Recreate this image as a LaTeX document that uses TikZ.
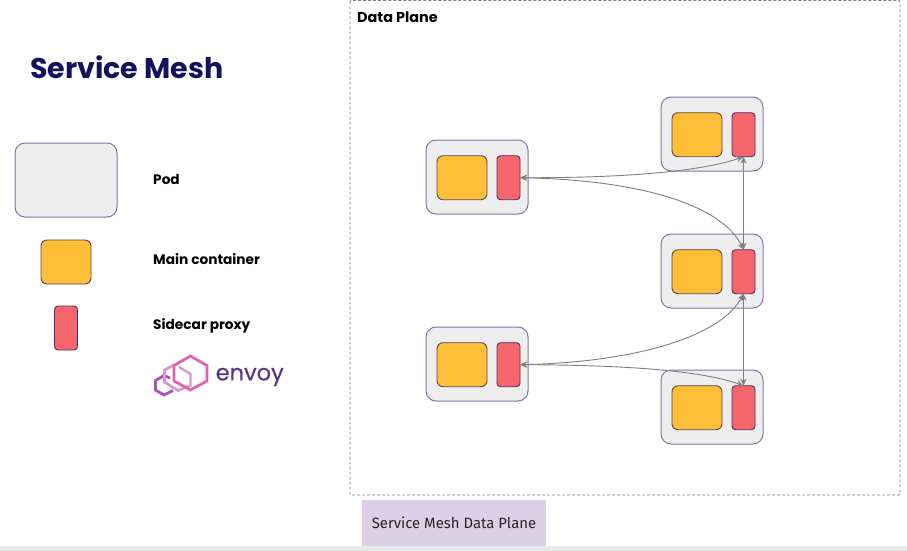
\documentclass[tikz,border=0pt]{standalone}
\usepackage{fontspec}
\setmainfont{Poppins}
\newfontfamily\labelfont{Fira Sans}
\newfontfamily\logofont[FakeBold=0.4]{Poppins}
\usetikzlibrary{arrows.meta}
\definecolor{podfill}{HTML}{EEEEEE}
\definecolor{podline}{HTML}{7A79A8}
\definecolor{mainfill}{HTML}{FFBE37}
\definecolor{sidefill}{HTML}{F4666C}
\definecolor{navy}{HTML}{14125C}
\definecolor{linkgray}{HTML}{808080}
\tikzset{
  podbox/.style={draw=podline,fill=podfill,line width=1pt,rounded corners=10pt,minimum width=102pt,minimum height=74pt,inner sep=0pt,outer sep=0pt},
  mainbox/.style={draw=navy!70!mainfill,fill=mainfill,line width=.9pt,rounded corners=6pt,minimum width=50pt,minimum height=44pt,inner sep=0pt,outer sep=0pt},
  sidebox/.style={draw=navy!70!sidefill,fill=sidefill,line width=.9pt,rounded corners=3.5pt,minimum width=23pt,minimum height=44pt,inner sep=0pt,outer sep=0pt},
  link/.style={draw=linkgray,line width=.9pt,{Stealth[length=7pt,width=6pt]}-{Stealth[length=7pt,width=6pt]}},
  legendtext/.style={anchor=west,inner sep=0pt,font=\fontsize{13.7}{15}\selectfont\bfseries,text=black},
  hexa/.style={line width=2.8pt,line join=miter}
}
\begin{document}
\begin{tikzpicture}[x=1pt,y=-1pt]
\useasboundingbox (0,0) rectangle (907,551);
\fill[white] (0,0) rectangle (907,551);
\fill[black!9] (0,546) rectangle (907,551);
\coordinate (dpa) at (350,0.5);
\coordinate (dpb) at (900,495);
\draw[draw=black!50,line width=.9pt,dash pattern=on 3pt off 2pt,rounded corners=1pt] (dpa) rectangle (dpb);
\node[anchor=west,inner sep=0pt,font=\fontsize{14.4}{16}\selectfont\bfseries] (dptitle) at (357,17.5) {Data Plane};
\node[anchor=west,inner sep=0pt,font=\fontsize{28.5}{34}\selectfont\bfseries,text=navy] (title) at (30,67) {Service Mesh};
\node[fill={rgb,255:red,220;green,207;blue,232},minimum width=184pt,minimum height=46pt,inner sep=0pt,font=\labelfont\fontsize{14.9}{17}\selectfont,text=black!85] (caption) at (454,523) {Service Mesh Data Plane};
% legend
\node[podbox] (lpod) at (66,180) {};
\node[mainbox] (lmain) at (66,262) {};
\node[sidebox] (lside) at (66,328) {};
\node[legendtext] (tpod) at (153,179) {Pod};
\node[legendtext] (tmain) at (153,259.5) {Main container};
\node[legendtext] (tside) at (153,326) {Sidecar proxy};
% pods
\foreach \n/\x/\y in {a/477/177,b/712/134,c/712/271,d/477/364,e/712/407}{
  \node[podbox] (pod\n) at (\x,\y) {};
  \node[mainbox] (main\n) at (\x-15,\y+0.7) {};
  \node[sidebox] (side\n) at (\x+31.5,\y+0.7) {};
}
% connectors
\draw[link] (sidea.east) .. controls (620,178) and (700,172) .. (sideb.south);
\draw[link] (sidea.east) .. controls (640,180) and (722,205) .. (sidec.north);
\draw[link] (sideb.south) -- (sidec.north);
\draw[link] (sided.east) .. controls (640,362) and (722,335) .. (sidec.south);
\draw[link] (sided.east) .. controls (620,365) and (700,370) .. (sidee.north);
\draw[link] (sidec.south) -- (sidee.north);
% envoy logo
\definecolor{envA}{HTML}{E362AE}
\definecolor{envB}{HTML}{D49AD0}
\definecolor{envC}{HTML}{B150B0}
\draw[hexa,envC] (170,378) -- (164,375.5) -- (155.5,380.5) -- (155.5,390) -- (164,395) -- (173,390.5);
\draw[hexa,envB] (175,364.5) -- (164.5,370) -- (164.5,382) -- (178,390.5) -- (189,386);
\draw[hexa,envA] (190.5,356) -- (207,365.5) -- (207,381) -- (190.5,390) -- (174,381) -- (174,365.5) -- cycle;
\draw[hexa,envB,line width=2.4pt] (179,367) -- (190.5,374) -- (190.5,387);
\node[anchor=west,inner sep=0pt,font=\logofont\fontsize{22.5}{26}\selectfont,text={rgb,255:red,88;green,55;blue,130}] (envoy) at (215.5,377) {envoy};
\end{tikzpicture}
\end{document}
